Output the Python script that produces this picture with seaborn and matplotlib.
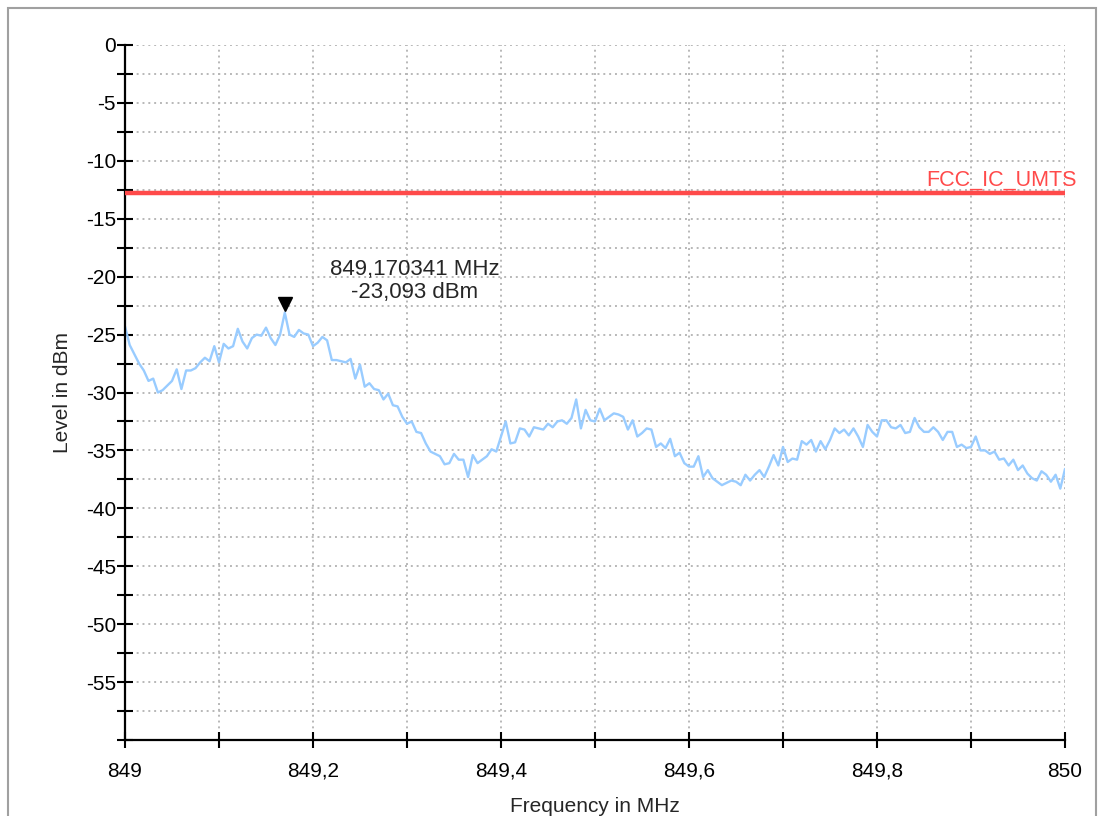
import numpy as np
import pandas as pd
import matplotlib
matplotlib.use("Agg")
import matplotlib.pyplot as plt
import matplotlib.ticker as mticker
import seaborn as sns

# sweep 849..850 MHz, levels (dBm)
freq_start, freq_stop = 849.0, 850.0
levels = [
    -24.3, -25.9, -26.7, -27.5, -28.1, -29.0, -28.8, -30.0, -29.8, -29.4,
    -29.0, -28.0, -29.7, -28.1, -28.1, -27.9, -27.4, -27.0, -27.3, -26.0,
    -27.4, -25.8, -26.2, -26.0, -24.5, -25.6, -26.2, -25.3, -25.0, -25.1,
    -24.4, -25.3, -25.9, -25.0, -23.1, -25.0, -25.2, -24.6, -24.9, -25.0,
    -26.0, -25.7, -25.2, -25.5, -27.2, -27.2, -27.3, -27.4, -27.1, -28.8,
    -27.6, -29.5, -29.2, -29.7, -29.8, -30.6, -30.1, -31.1, -31.2, -32.1,
    -32.7, -32.5, -33.4, -33.5, -34.4, -35.1, -35.3, -35.5, -36.2, -36.1,
    -35.3, -35.8, -35.8, -37.3, -35.4, -36.1, -35.8, -35.5, -34.9, -35.1,
    -33.8, -32.5, -34.4, -34.3, -33.1, -33.2, -33.8, -33.0, -33.1, -33.2,
    -32.7, -33.0, -32.5, -32.4, -32.7, -32.2, -30.6, -33.1, -31.5, -32.4,
    -32.5, -31.4, -32.4, -32.1, -31.8, -31.9, -32.1, -33.2, -32.4, -33.8,
    -33.5, -33.1, -33.2, -34.7, -34.4, -34.8, -34.0, -35.5, -35.2, -36.1,
    -36.4, -36.4, -35.5, -37.3, -36.7, -37.4, -37.7, -38.0, -37.8, -37.6,
    -37.7, -38.0, -37.1, -37.6, -37.1, -36.7, -37.3, -36.4, -35.4, -36.3,
    -34.7, -36.0, -35.7, -35.8, -34.2, -34.5, -34.1, -35.1, -34.2, -34.9,
    -34.1, -33.1, -33.5, -33.2, -33.7, -33.1, -33.8, -34.7, -32.8, -33.4,
    -33.8, -32.4, -32.4, -33.0, -33.1, -32.8, -33.5, -33.4, -32.2, -33.0,
    -33.4, -33.4, -33.0, -33.4, -34.1, -33.4, -33.4, -34.7, -34.5, -34.8,
    -34.7, -33.8, -35.0, -35.0, -35.3, -35.1, -35.8, -35.7, -36.3, -35.8,
    -36.7, -36.3, -37.0, -37.4, -37.6, -36.8, -37.1, -37.7, -37.1, -38.3,
    -36.6,
]
freqs = np.linspace(freq_start, freq_stop, len(levels))

limit_level = -12.8
limit_name = "FCC_IC_UMTS"
marker_freq = 849.170341
marker_level = -23.093

df = pd.DataFrame({"Frequency": freqs, "Level": levels})

sns.set_theme(style="ticks")
plt.rcParams["font.family"] = ["Liberation Sans", "DejaVu Sans"]

FS = 15

fig = plt.figure(figsize=(11, 8.16), dpi=100)
ax = fig.add_axes([125 / 1100, 1 - 740 / 816, 940 / 1100, 695 / 816])

sns.lineplot(data=df, x="Frequency", y="Level", color="#99ccff", linewidth=1.7, ax=ax)
ax.axhline(limit_level, color="#ff4a4a", linewidth=3.2, zorder=3)
ax.text(1.0128, limit_level + 0.2, limit_name, transform=ax.get_yaxis_transform(),
        ha="right", va="bottom", color="#ff4a4a", fontsize=15.5)

# marker
ax.plot(marker_freq, marker_level + 0.7, marker="v", color="black", markersize=10, zorder=4)
ax.text(849.3085, -20.4,
        f"{marker_freq:.6f} MHz".replace(".", ",") + "\n" + f"{marker_level:.3f} dBm".replace(".", ","),
        ha="center", va="center", multialignment="center", fontsize=16, linespacing=1.1)

ax.set_xlim(freq_start, freq_stop)
ax.set_ylim(-60, 0)

ax.xaxis.set_major_locator(mticker.MultipleLocator(0.1))
ax.yaxis.set_major_locator(mticker.MultipleLocator(2.5))


def xfmt(v, pos):
    k = int(round((v - 849) * 10))
    if k % 2:
        return ""
    return f"{v:.1f}".rstrip("0").rstrip(".").replace(".", ",")


def yfmt(v, pos):
    if abs(v / 5 - round(v / 5)) > 1e-6 or v < -57:
        return ""
    return f"{v:.0f}"


ax.xaxis.set_major_formatter(mticker.FuncFormatter(xfmt))
ax.yaxis.set_major_formatter(mticker.FuncFormatter(yfmt))

ax.grid(True, color="#b8b8b8", linestyle=(0, (1, 2)), linewidth=1.4)
for s in ["top", "right"]:
    ax.spines[s].set_visible(False)
for s in ["left", "bottom"]:
    ax.spines[s].set_color("black")
    ax.spines[s].set_linewidth(1.6)

ax.tick_params(axis="y", direction="inout", length=11, width=1.5, color="black",
               labelsize=FS, pad=1, labelcolor="black")
ax.tick_params(axis="x", direction="inout", length=11, width=1.5, color="black",
               labelsize=FS, pad=10, labelcolor="black")

ax.set_xlabel("Frequency in MHz", fontsize=FS, labelpad=12)
ax.set_ylabel("Level in dBm", fontsize=FS, labelpad=10)

# window frame
fig.patches.append(plt.Rectangle((8 / 1100, -0.1), 1088 / 1100, 1.1 - 8 / 816,
                                 transform=fig.transFigure, fill=False,
                                 edgecolor="#a0a0a0", linewidth=1.5))

fig.savefig("out.png", dpi=100)
